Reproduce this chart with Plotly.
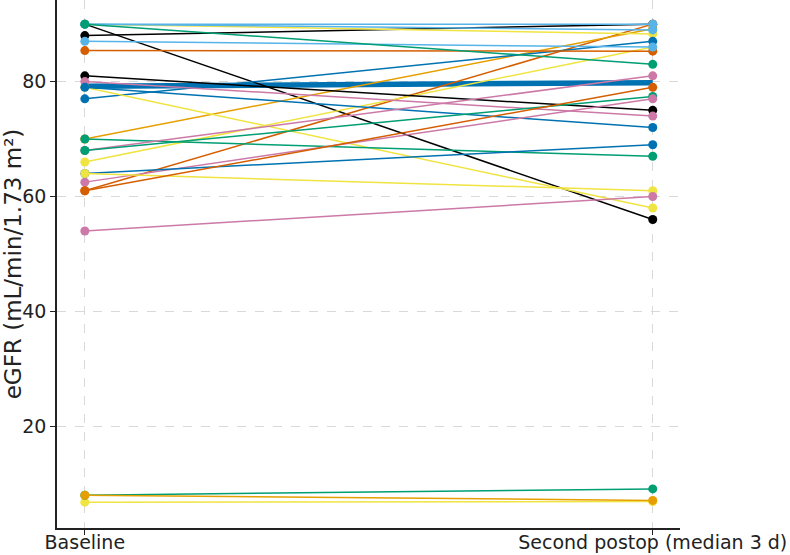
import plotly.graph_objects as go

# Timepoints / tick labels
timepoints = ["Baseline", "Second postop (median 3 d)"]
x_pos = [0, 1]

# Okabe-Ito colours
BLACK = "#000000"
ORANGE = "#E69F00"
SKY = "#56B4E9"
GREEN = "#009E73"
YELLOW = "#F0E442"
BLUE = "#0072B2"
VERM = "#D55E00"
PINK = "#CC79A7"

# per-patient eGFR values (drawing order)
baseline = [90, 88, 61, 70, 66, 90, 90, 90, 77, 85.4, 87, 90, 81, 79, 80, 79,
            70, 68, 68, 62.5, 64, 64, 61, 54, 6.8, 8, 8]
postop = [56, 90, 90, 89.2, 86, 88.3, 89, 90, 87, 85.3, 86, 83, 75, 58, 74, 72,
          67, 81, 77.4, 77, 69, 61, 79, 60, 6.9, 9.1, 7.1]
colors = [BLACK, BLACK, VERM, ORANGE, YELLOW, YELLOW, SKY, SKY, BLUE, VERM, SKY, GREEN,
          BLACK, YELLOW, PINK, BLUE, GREEN, PINK, GREEN, PINK, BLUE, YELLOW, VERM, PINK,
          YELLOW, GREEN, ORANGE]

# highlighted thick summary line
summary = [79.2, 79.8]

fig = go.Figure()
fig.add_trace(go.Scatter(x=x_pos, y=summary, mode="lines",
                         line=dict(color=BLUE, width=5.5), showlegend=False,
                         hoverinfo="skip"))
for b, p, c in zip(baseline, postop, colors):
    fig.add_trace(go.Scatter(x=x_pos, y=[b, p], mode="lines+markers",
                             line=dict(color=c, width=1.5),
                             marker=dict(color=c, size=9),
                             showlegend=False))

font = dict(family="DejaVu Sans", size=19, color="#222")
fig.update_layout(
    width=790, height=555,
    margin=dict(l=57, r=110, t=0, b=27),
    plot_bgcolor="white", paper_bgcolor="white",
    font=font,
    xaxis=dict(range=[-0.049, 1.048], tickvals=x_pos, ticktext=timepoints,
               showgrid=True, gridcolor="#d9d9d9", griddash="dash", gridwidth=0.8,
               showline=True, linecolor="#222", linewidth=1.5, automargin=False,
               ticks="outside", ticklen=5, tickcolor="#222", zeroline=False,
               ticklabelstandoff=-9),
    yaxis=dict(range=[2.3, 94.2], tickvals=[20, 40, 60, 80],
               showgrid=True, gridcolor="#d9d9d9", griddash="dash", gridwidth=0.8,
               showline=True, linecolor="#222", linewidth=1.5, automargin=False,
               ticks="outside", ticklen=5, tickcolor="#222", zeroline=False,
               title=dict(text="eGFR (mL/min/1.73 m²)", standoff=6)),
)
fig.write_html("out.html")
